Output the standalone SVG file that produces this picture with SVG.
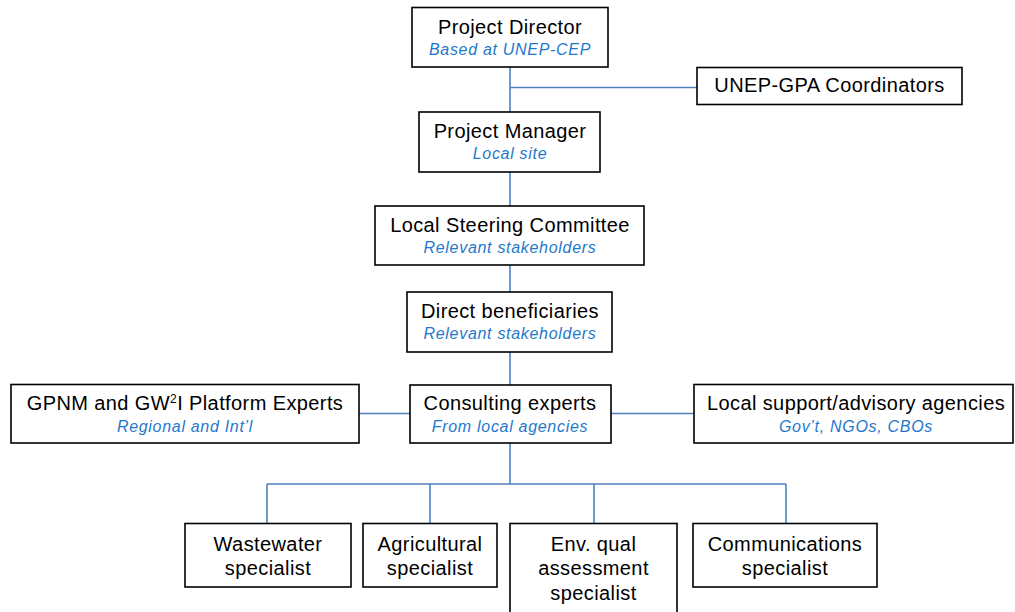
<svg xmlns="http://www.w3.org/2000/svg" width="1015" height="612" viewBox="0 0 1015 612">
<style>
.box{fill:#fff;stroke:#000;stroke-width:1.6}
.t{font-family:"Liberation Sans",Arial,sans-serif;font-size:20px;letter-spacing:0.4px;fill:#000;text-anchor:middle}
.s{font-family:"Liberation Sans",Arial,sans-serif;font-size:16px;letter-spacing:0.7px;font-style:italic;fill:#1F78CC;text-anchor:middle}
.c{stroke:#4F81BD;stroke-width:1.6;fill:none}
</style>
<rect width="1015" height="612" fill="#fff"/>
<g id="connectors">
<path class="c" d="M510 67V112M510 87.5H697M510 172V206M510 265V292M510 352V385M359 413.5H410M611 413.5H694M510 443V484M267 484H786M267 484V523M430 484V523M594 484V523M786 484V523"/>
</g>
<g id="project-director">
<rect class="box" x="412" y="7.5" width="196" height="59.5"/>
<text class="t" x="510" y="34">Project Director</text>
<text class="s" x="510" y="55">Based at UNEP-CEP</text>
</g>
<g id="unep-gpa">
<rect class="box" x="697" y="67.5" width="265" height="37"/>
<text class="t" x="829.5" y="92">UNEP-GPA Coordinators</text>
</g>
<g id="project-manager">
<rect class="box" x="419" y="112" width="181" height="60"/>
<text class="t" x="510" y="138">Project Manager</text>
<text class="s" x="510" y="159">Local site</text>
</g>
<g id="steering-committee">
<rect class="box" x="375" y="206" width="269" height="59"/>
<text class="t" x="510" y="232">Local Steering Committee</text>
<text class="s" x="510" y="253">Relevant stakeholders</text>
</g>
<g id="direct-beneficiaries">
<rect class="box" x="407" y="292" width="205" height="60"/>
<text class="t" x="510" y="318">Direct beneficiaries</text>
<text class="s" x="510" y="339">Relevant stakeholders</text>
</g>
<g id="gpnm-experts">
<rect class="box" x="11" y="384.5" width="348" height="58.5"/>
<text class="t" x="185" y="410">GPNM and GW<tspan font-size="12" dy="-7">2</tspan><tspan dy="7">I Platform Experts</tspan></text>
<text class="s" x="185" y="432">Regional and Int’l</text>
</g>
<g id="consulting-experts">
<rect class="box" x="410" y="385" width="201" height="58"/>
<text class="t" x="510" y="410">Consulting experts</text>
<text class="s" x="510" y="432">From local agencies</text>
</g>
<g id="local-support">
<rect class="box" x="694" y="384.5" width="319" height="58.5"/>
<text class="t" x="856" y="410">Local support/advisory agencies</text>
<text class="s" x="856" y="432">Gov’t, NGOs, CBOs</text>
</g>
<g id="wastewater">
<rect class="box" x="185" y="523.5" width="166" height="63.5"/>
<text class="t" x="268" y="551">Wastewater</text>
<text class="t" x="268" y="575">specialist</text>
</g>
<g id="agricultural">
<rect class="box" x="363" y="523.5" width="134" height="63.5"/>
<text class="t" x="430" y="551">Agricultural</text>
<text class="t" x="430" y="575">specialist</text>
</g>
<g id="env-qual">
<rect class="box" x="510" y="523.5" width="167" height="100"/>
<text class="t" x="593.5" y="551">Env. qual</text>
<text class="t" x="593.5" y="575">assessment</text>
<text class="t" x="593.5" y="600">specialist</text>
</g>
<g id="communications">
<rect class="box" x="693" y="523.5" width="184" height="63.5"/>
<text class="t" x="785" y="551">Communications</text>
<text class="t" x="785" y="575">specialist</text>
</g>
</svg>
